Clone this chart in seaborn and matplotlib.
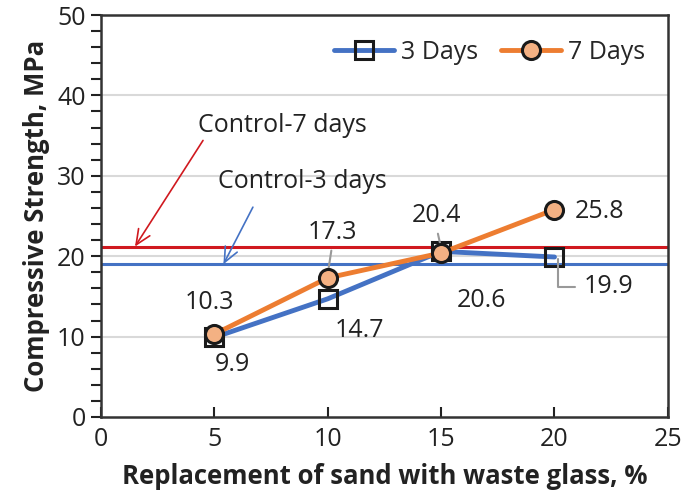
import numpy as np
import pandas as pd
import matplotlib
matplotlib.use('Agg')
import matplotlib.pyplot as plt
from matplotlib.ticker import MultipleLocator
import seaborn as sns

# data
replacement = [5, 10, 15, 20]
days3 = [9.9, 14.7, 20.6, 19.9]
days7 = [10.3, 17.3, 20.4, 25.8]
control3 = 19.0
control7 = 21.2

df = pd.DataFrame({'x': replacement, '3 Days': days3, '7 Days': days7})

sns.set_theme(style='white')
plt.rcParams['font.family'] = ['Open Sans', 'DejaVu Sans']

fig = plt.figure(figsize=(6.85, 5.01), dpi=100)
ax = fig.add_axes([0.1474, 0.1677, 0.8276, 0.8023])

for y in [10, 20, 30, 40]:
    ax.axhline(y, color='#d9d9d9', lw=1.5, zorder=0)

ax.axhline(control7, color='#d0191f', lw=2.2, zorder=1)
ax.axhline(control3, color='#4472c4', lw=2.2, zorder=1)

sns.lineplot(data=df, x='x', y='3 Days', ax=ax, color='#4472c4', lw=3.5,
             marker='s', markersize=13, markerfacecolor='none',
             markeredgecolor='#1a1a1a', markeredgewidth=2.2, label='3 Days', zorder=3)
sns.lineplot(data=df, x='x', y='7 Days', ax=ax, color='#ed7d31', lw=3.5,
             marker='o', markersize=13, markerfacecolor='#f4b183',
             markeredgecolor='#1a1a1a', markeredgewidth=2.2, label='7 Days', zorder=4)

fs = 18
ax.set_xlim(0, 25)
ax.set_ylim(0, 50)
ax.xaxis.set_major_locator(MultipleLocator(5))
ax.yaxis.set_major_locator(MultipleLocator(10))
ax.yaxis.set_minor_locator(MultipleLocator(2))
ax.tick_params(axis='x', direction='in', length=7, width=1.5, labelsize=fs,
               pad=7, colors='#222222', bottom=True)
ax.tick_params(axis='y', which='both', direction='out', length=7, width=1.5,
               labelsize=fs, pad=4, colors='#222222', left=True)
for s in ax.spines.values():
    s.set_color('#333333')
    s.set_linewidth(1.8)

ax.set_xlabel('Replacement of sand with waste glass, %', fontsize=18.5,
              fontweight='bold', labelpad=8, color='#222222')
ax.set_ylabel('Compressive Strength, MPa', fontsize=18.5, fontweight='bold',
              labelpad=5, color='#222222')

# data labels
tk = dict(fontsize=fs, color='#222222', ha='center', va='center')
ax.text(4.8, 14.3, '10.3', **tk)
ax.text(5.8, 6.5, '9.9', **tk)
ax.text(11.4, 10.8, '14.7', **tk)
ax.text(16.8, 14.5, '20.6', **tk)
ax.text(22.0, 25.6, '25.8', **tk)
lead = dict(arrowstyle='-', color='#999999', lw=1.5, shrinkA=2, shrinkB=0,
            relpos=(0.5, 0.0))
ax.annotate('17.3', xy=(10.0, 17.8), xytext=(10.2, 23.0), arrowprops=lead, **tk)
ax.annotate('20.4', xy=(15.0, 21.0), xytext=(14.8, 25.1), arrowprops=lead, **tk)
ax.annotate('19.9', xy=(20.15, 19.6), xytext=(22.4, 16.2),
            arrowprops=dict(arrowstyle='-', color='#999999', lw=1.5,
                            connectionstyle='angle,angleA=0,angleB=90,rad=0',
                            relpos=(0.0, 0.5), shrinkA=4, shrinkB=0), **tk)

# control annotations
ax.annotate('', xy=(1.5, control7), xytext=(4.5, 34.4),
            arrowprops=dict(arrowstyle='->,head_length=0.9,head_width=0.4',
                            color='#d0191f', lw=1.2, shrinkA=0, shrinkB=0))
ax.text(8.0, 36.3, 'Control-7 days', fontsize=fs, color='#222222',
        ha='center', va='center')
ax.annotate('', xy=(5.4, control3), xytext=(6.7, 26.1),
            arrowprops=dict(arrowstyle='->,head_length=0.9,head_width=0.4',
                            color='#4472c4', lw=1.2, shrinkA=0, shrinkB=0))
ax.text(8.9, 29.3, 'Control-3 days', fontsize=fs, color='#222222',
        ha='center', va='center')

ax.legend(loc='upper right', ncol=2, frameon=False, fontsize=fs,
          bbox_to_anchor=(1.0, 0.995), handlelength=2.4, columnspacing=0.9,
          handletextpad=0.3)

fig.savefig('out.png', dpi=100)
